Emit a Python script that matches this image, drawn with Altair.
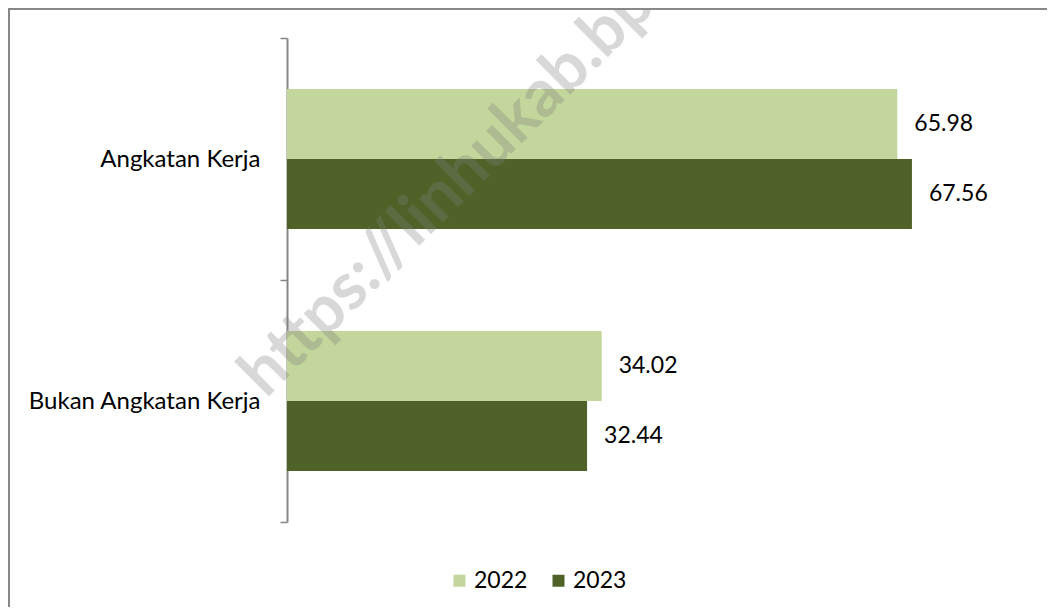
import altair as alt
import pandas as pd

categories = ["Angkatan Kerja", "Bukan Angkatan Kerja"]
years = ["2022", "2023"]
values_2022 = [65.98, 34.02]
values_2023 = [67.56, 32.44]
colors = ["#C3D69B", "#4F6228"]
watermark_text = "https://linhukab.bps.go.id"

rows = []
for i, c in enumerate(categories):
    rows.append({"kategori": c, "tahun": "2022", "nilai": values_2022[i]})
    rows.append({"kategori": c, "tahun": "2023", "nilai": values_2023[i]})
df = pd.DataFrame(rows)

FONT = "Lato"
W, H = 740, 484

y_enc = alt.Y("kategori:N", sort=categories, title=None,
              scale=alt.Scale(paddingInner=0, paddingOuter=0),
              axis=alt.Axis(tickBand="extent", tickSize=7, tickColor="#868686",
                            tickWidth=1.5, domainColor="#868686", domainWidth=2,
                            labelFont=FONT, labelFontSize=24, labelColor="#000000",
                            labelPadding=20, labelLimit=0, grid=False))
yoff = alt.YOffset("tahun:N", sort=years,
                   scale=alt.Scale(paddingInner=0, paddingOuter=0.73))
x_enc = alt.X("nilai:Q", scale=alt.Scale(domain=[0, 80], nice=False), axis=None)

bars = alt.Chart(df).mark_bar().encode(
    y=y_enc, yOffset=yoff, x=x_enc,
    color=alt.Color("tahun:N", sort=years,
                    scale=alt.Scale(domain=years, range=colors),
                    legend=alt.Legend(title=None, orient="none", direction="horizontal",
                                      legendX=161, legendY=531, symbolType="square",
                                      symbolSize=144, symbolStrokeWidth=0,
                                      labelFont=FONT, labelFontSize=23,
                                      labelColor="#000000", labelOffset=3,
                                      columnPadding=19)),
)

labels = alt.Chart(df).mark_text(align="left", baseline="middle", dx=17,
                                 font=FONT, fontSize=23, color="#000000").encode(
    y=alt.Y("kategori:N", sort=categories), yOffset=alt.YOffset("tahun:N", sort=years),
    x="nilai:Q", text=alt.Text("nilai:Q", format=".2f"),
)

one = pd.DataFrame({"k": [0]})
watermark = alt.Chart(one).mark_text(
    align="left", baseline="alphabetic", angle=315, font=FONT, fontSize=66,
    fontWeight="bold", color="#808080", opacity=0.3, text=watermark_text,
).encode(x=alt.value(-21), y=alt.value(361))

border = alt.Chart(one).mark_rect(fillOpacity=0, stroke="#888888", strokeWidth=2).encode(
    x=alt.value(-278), x2=alt.value(W + 60), y=alt.value(-29), y2=alt.value(H + 120)
)

chart = alt.layer(bars, labels, watermark, border).properties(
    width=W, height=H,
    autosize=alt.AutoSizeParams(type="none"),
    padding={"left": 279, "top": 30, "right": 20, "bottom": 85},
).configure_view(strokeWidth=0)

chart.save("out.html", embed_options={"renderer": "svg", "actions": False})
